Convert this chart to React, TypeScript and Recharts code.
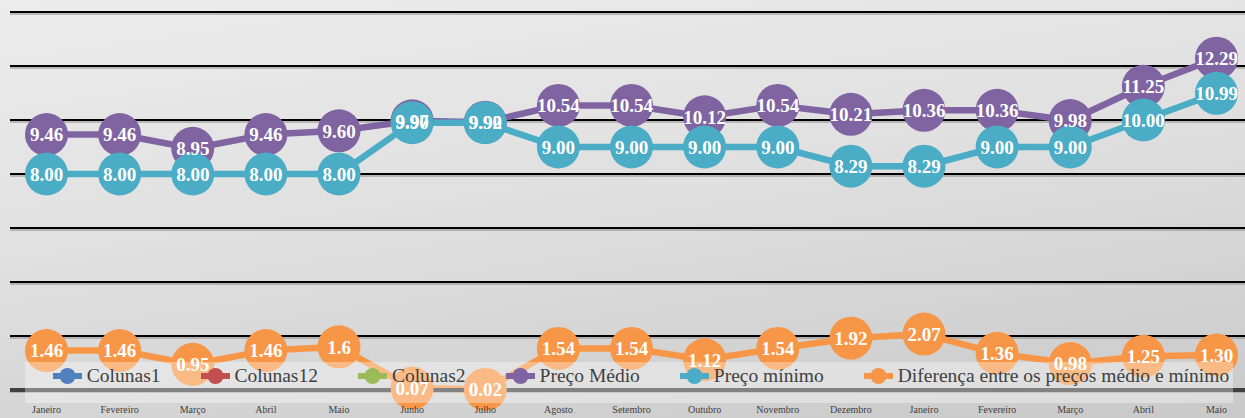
import { LineChart, Line, XAxis, YAxis, CartesianGrid, Legend, LabelList } from "recharts"

const months = [
  "Janeiro", "Fevereiro", "Março", "Abril", "Maio", "Junho", "Julho", "Agosto", "Setembro",
  "Outubro", "Novembro", "Dezembro", "Janeiro", "Fevereiro", "Março", "Abril", "Maio",
]
const precoMedio = [9.46, 9.46, 8.95, 9.46, 9.6, 9.97, 9.92, 10.54, 10.54, 10.12, 10.54, 10.21, 10.36, 10.36, 9.98, 11.25, 12.29]
const precoMinimo = [8.0, 8.0, 8.0, 8.0, 8.0, 9.9, 9.9, 9.0, 9.0, 9.0, 9.0, 8.29, 8.29, 9.0, 9.0, 10.0, 10.99]
const diferenca = ["1.46", "1.46", "0.95", "1.46", "1.6", "0.07", "0.02", "1.54", "1.54", "1.12", "1.54", "1.92", "2.07", "1.36", "0.98", "1.25", "1.30"]
const yTicks = [0, 2, 4, 6, 8, 10, 12, 14]
const seriesNames = ["Colunas1", "Colunas12", "Colunas2", "Preço Médio", "Preço mínimo", "Diferença entre os preços médio e mínimo"]

const rows = months.map((mes, i) => ({
  mes: mes + "_" + i,
  medio: precoMedio[i],
  minimo: precoMinimo[i],
  dif: parseFloat(diferenca[i]),
  difTxt: diferenca[i],
}))

const PURPLE = "#8064A2"
const CYAN = "#4BACC6"
const ORANGE = "#F79646"
const SERIF = "'Liberation Serif', 'Times New Roman', serif"

const labelStyle = { fill: "#fff", fontWeight: 700, fontSize: 19, fontFamily: SERIF }

function gridLine(props: any) {
  const { x1, x2, y1, key } = props
  return (
    <g key={key}>
      <line x1={x1} x2={x2} y1={y1 + 2} y2={y1 + 2} stroke="#8a8a8a" strokeWidth={1.2} />
      <line x1={x1} x2={x2} y1={y1} y2={y1} stroke="#000" strokeWidth={2} />
    </g>
  )
}

function LegendBox(props: any) {
  const items = (props.payload || [])
    .filter((p: any) => p.type !== "none" && seriesNames.includes(p.value))
    .sort((a: any, b: any) => seriesNames.indexOf(a.value) - seriesNames.indexOf(b.value))
  return (
    <div
      style={{
        width: 1208,
        height: 41,
        background: "rgba(255,255,255,0.35)",
        display: "flex",
        justifyContent: "center",
        alignItems: "flex-start",
        gap: 40,
        paddingTop: 3,
        boxSizing: "border-box",
        fontFamily: SERIF,
        fontSize: 19.5,
        color: "#404040",
        paddingLeft: 24,
      }}
    >
      {items.map((p: any) => (
        <div key={p.value} style={{ display: "flex", alignItems: "center", height: 22 }}>
          <svg width={29} height={18} style={{ marginRight: 5 }}>
            <line x1={0} x2={29} y1={9} y2={9} stroke={p.color} strokeWidth={6} />
            <circle cx={14.5} cy={9} r={8} fill={p.color} />
          </svg>
          <span>{p.value}</span>
        </div>
      ))}
    </div>
  )
}

export default function App() {
  return (
    <div
      style={{
        width: 1245,
        height: 418,
        overflow: "hidden",
        position: "relative",
        background: "linear-gradient(172deg, #ececec 0%, #e0e0e0 45%, #c9c9c9 100%)",
      }}
    >
      <style>{"body{margin:0}"}</style>
      <LineChart width={1253} height={418} data={rows} margin={{ top: 12, right: 0, bottom: 0, left: 10 }}>
        <CartesianGrid vertical={false} horizontal={gridLine} />
        <XAxis
          dataKey="mes"
          padding={{ left: 36.5, right: 36.5 }}
          height={28}
          tickLine={false}
          axisLine={{ stroke: "#404040", strokeWidth: 4 }}
          tickMargin={10}
          interval={0}
          tickFormatter={(v: string) => v.split("_")[0]}
          tick={{ fill: "#404040", fontSize: 10, fontFamily: SERIF }}
        />
        <YAxis hide domain={[0, 14]} ticks={yTicks} />
        <Line dataKey="Colunas1" name={seriesNames[0]} stroke="#4F81BD" isAnimationActive={false} dot={false} />
        <Line dataKey="Colunas12" name={seriesNames[1]} stroke="#C0504D" isAnimationActive={false} dot={false} />
        <Line dataKey="Colunas2" name={seriesNames[2]} stroke="#9BBB59" isAnimationActive={false} dot={false} />
        <Line
          dataKey="medio"
          name={seriesNames[3]}
          stroke={PURPLE}
          strokeWidth={6.5}
          dot={{ r: 21.5, fill: PURPLE, stroke: "none" }}
          activeDot={false}
          isAnimationActive={false}
        />
        <Line
          dataKey="minimo"
          name={seriesNames[4]}
          stroke={CYAN}
          strokeWidth={6.5}
          dot={{ r: 21.5, fill: CYAN, stroke: "none" }}
          activeDot={false}
          isAnimationActive={false}
        />
        <Line
          dataKey="dif"
          name={seriesNames[5]}
          stroke={ORANGE}
          strokeWidth={6.5}
          dot={{ r: 21.5, fill: ORANGE, stroke: "none" }}
          activeDot={false}
          isAnimationActive={false}
        />
        <Line dataKey="medio" name="lbl1" stroke="none" dot={false} activeDot={false} legendType="none" isAnimationActive={false}>
          <LabelList dataKey="medio" position="center" formatter={(v: any) => Number(v).toFixed(2)} style={labelStyle} />
        </Line>
        <Line dataKey="minimo" name="lbl2" stroke="none" dot={false} activeDot={false} legendType="none" isAnimationActive={false}>
          <LabelList dataKey="minimo" position="center" formatter={(v: any) => Number(v).toFixed(2)} style={labelStyle} />
        </Line>
        <Line dataKey="dif" name="lbl3" stroke="none" dot={false} activeDot={false} legendType="none" isAnimationActive={false}>
          <LabelList dataKey="difTxt" position="center" style={labelStyle} />
        </Line>
        <Legend
          layout="horizontal"
          verticalAlign="middle"
          align="center"
          itemSorter={null as any}
          content={LegendBox}
          wrapperStyle={{ left: 25, top: 362, width: 1208, height: 41 }}
        />
      </LineChart>
    </div>
  )
}
